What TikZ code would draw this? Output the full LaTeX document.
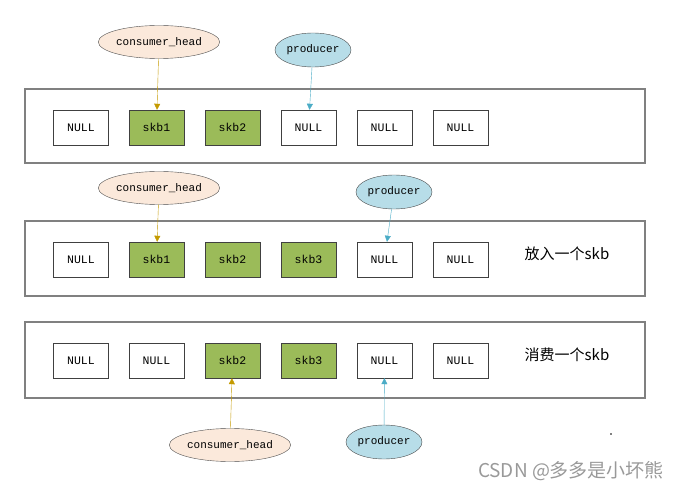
\documentclass[tikz,border=0pt]{standalone}
\usepackage{fontspec}
\setmonofont{Liberation Mono}
\newfontfamily\cjk{Noto Sans CJK SC}
\usetikzlibrary{shapes.geometric,arrows.meta}

\definecolor{skbgreen}{HTML}{9BBB59}
\definecolor{conpeach}{HTML}{FBE9DB}
\definecolor{problue}{HTML}{B7DDE8}
\definecolor{congold}{HTML}{C49A00}
\definecolor{proteal}{HTML}{4BACC6}

\begin{document}
\begin{tikzpicture}[x=1pt,y=-1pt,
  slot/.style={draw=black!75, fill=white, minimum width=55pt, minimum height=35pt,
    inner sep=0pt, font=\ttfamily\fontsize{11.5}{13}\selectfont},
  full/.style={slot, fill=skbgreen},
  ringbox/.style={draw=black!50, line width=1.5pt},
  conptr/.style={ellipse, draw=black!70, fill=conpeach, minimum width=118pt,
    minimum height=33pt, inner sep=0pt, font=\ttfamily\fontsize{11}{13}\selectfont},
  proptr/.style={ellipse, draw=black!70, fill=problue, minimum width=76pt,
    minimum height=34pt, inner sep=0pt, font=\ttfamily\fontsize{11}{13}\selectfont},
  conarrow/.style={draw=congold, -{Triangle[width=6pt,length=6pt]}},
  proarrow/.style={draw=proteal, -{Triangle[width=6pt,length=6pt]}},
  note/.style={font=\cjk\fontsize{15}{17}\selectfont}
 ]
  \useasboundingbox (0,0) rectangle (681,492);

  % ring buffer frames
  \draw[ringbox] (25,89) rectangle (645,163);
  \draw[ringbox] (25,221) rectangle (645,296);
  \draw[ringbox] (25,322) rectangle (645,398);

  % first row: skb1, skb2 queued
  \foreach \i/\x/\t/\s in {1/81/NULL/slot, 2/156.5/skb1/full, 3/232.5/skb2/full,
                           4/308.5/NULL/slot, 5/384.5/NULL/slot, 6/460.5/NULL/slot}
    \node[\s] (a\i) at (\x,127.5) {\t};

  % second row: one skb put in
  \foreach \i/\x/\t/\s in {1/81/NULL/slot, 2/156.5/skb1/full, 3/232.5/skb2/full,
                           4/308.5/skb3/full, 5/384.5/NULL/slot, 6/460.5/NULL/slot}
    \node[\s] (b\i) at (\x,259.5) {\t};

  % third row: one skb consumed
  \foreach \i/\x/\t/\s in {1/81/NULL/slot, 2/156.5/NULL/slot, 3/232.5/skb2/full,
                           4/308.5/skb3/full, 5/384.5/NULL/slot, 6/460.5/NULL/slot}
    \node[\s] (c\i) at (\x,360.5) {\t};

  % pointers
  \node[conptr] (cha) at (159,42) {consumer\_head};
  \node[proptr] (pra) at (313,50) {producer};
  \node[conptr] (chb) at (159,188) {consumer\_head};
  \node[proptr] (prb) at (394,192) {producer};
  \node[conptr] (chc) at (230,445) {consumer\_head};
  \node[proptr] (prc) at (384,442) {producer};

  \draw[conarrow] (cha) -- (a2);
  \draw[proarrow] (pra) -- (a4);
  \draw[conarrow] (chb) -- (b2);
  \draw[proarrow] (prb) -- (b5);
  \draw[conarrow] (chc) -- (c3);
  \draw[proarrow] (prc) -- (c5);

  % notes
  \node[note] (putnote) at (567,254) {放入一个skb};
  \node[note] (getnote) at (567,355) {消费一个skb};

  \fill (611,434) circle (0.8pt);
  \node[font=\cjk\fontsize{19}{21}\selectfont, text=black!40] (mark) at (571,471) {CSDN @多多是小坏熊};
\end{tikzpicture}
\end{document}
